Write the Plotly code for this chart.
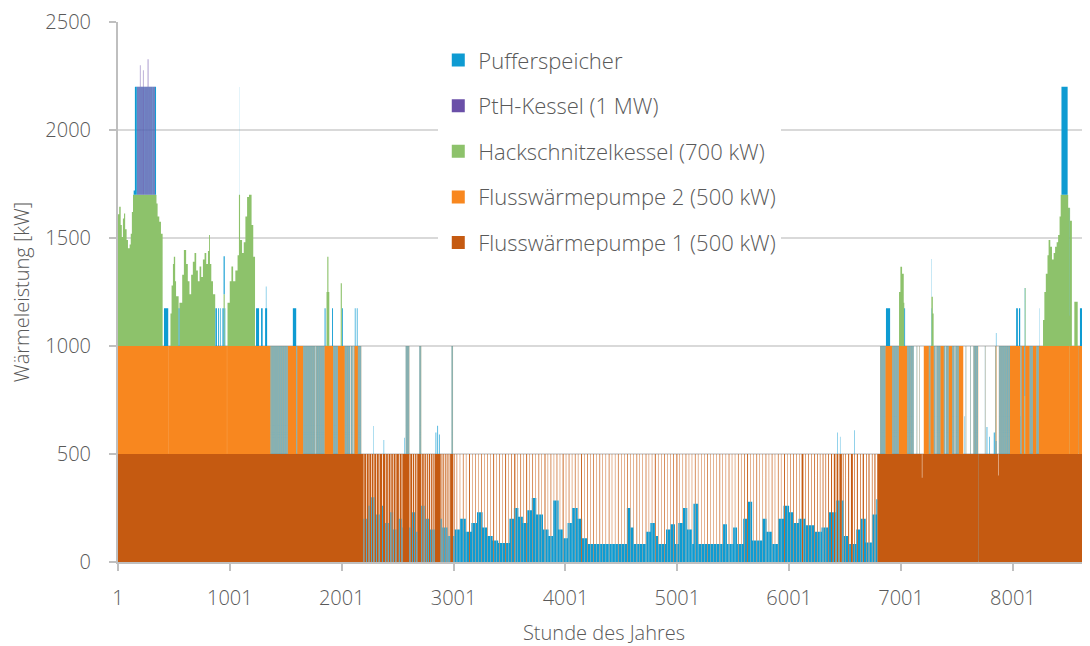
import numpy as np
import plotly.graph_objects as go

N_HOURS = 8760
hours = np.arange(1, N_HOURS + 1)

# ---------------- data (hours, kW) ----------------
# Flusswärmepumpe 1: 500 kW all year, mostly off in summer except listed runs
fwp1_full = 500
fwp1_summer_off = [2190, 6810]
fwp1_summer_on = [
    [2190, 2197], [2202, 2219], [2225, 2242], [2248, 2263], [2269, 2285], [2292, 2308], [2314, 2332],
    [2339, 2361], [2368, 2391], [2398, 2413], [2420, 2437], [2444, 2458], [2465, 2482], [2489, 2512],
    [2519, 2536], [2543, 2607], [2614, 2629], [2636, 2649], [2657, 2669], [2676, 2713], [2720, 2734],
    [2741, 2753], [2761, 2771], [2779, 2791], [2798, 2807], [2813, 2823], [2830, 2886], [2893, 2901],
    [2909, 2917], [2925, 2931], [2939, 2947], [2956, 2963], [2970, 2999], [3006, 3011],
    [3028, 3033], [3056, 3060], [3084, 3090], [3111, 3115], [3139, 3147], [3166, 3170], [3193, 3198],
    [3221, 3225], [3248, 3254], [3276, 3280], [3302, 3307], [3329, 3333], [3355, 3363], [3382, 3386],
    [3410, 3416], [3437, 3441], [3462, 3470], [3490, 3494], [3516, 3522], [3543, 3553], [3571, 3575],
    [3598, 3604], [3626, 3630], [3650, 3658], [3679, 3683], [3705, 3711], [3733, 3737], [3760, 3766],
    [3787, 3791], [3814, 3822], [3842, 3846], [3868, 3874], [3896, 3900], [3922, 3928], [3950, 3954],
    [3976, 3984], [4004, 4008], [4030, 4036], [4058, 4062], [4085, 4091], [4112, 4116], [4140, 4148],
    [4168, 4172], [4195, 4201], [4222, 4226], [4250, 4256], [4277, 4281], [4305, 4311], [4332, 4336],
    [4360, 4364], [4388, 4394], [4415, 4419], [4443, 4447], [4470, 4476], [4498, 4502], [4525, 4529],
    [4553, 4559], [4580, 4584], [4608, 4612], [4636, 4642], [4663, 4667], [4690, 4694], [4718, 4724],
    [4745, 4749], [4773, 4777], [4800, 4808], [4828, 4832], [4855, 4859], [4883, 4889], [4910, 4914],
    [4938, 4942], [4965, 4971], [4993, 5001], [5020, 5024], [5048, 5052], [5075, 5081], [5103, 5107],
    [5130, 5134], [5158, 5164], [5185, 5189], [5213, 5217], [5240, 5244], [5268, 5274], [5295, 5299],
    [5323, 5327], [5350, 5354], [5378, 5384], [5405, 5409], [5433, 5437], [5460, 5466], [5488, 5492],
    [5515, 5519], [5543, 5549], [5570, 5574], [5598, 5604], [5625, 5633], [5653, 5657], [5680, 5684],
    [5708, 5714], [5735, 5739], [5763, 5767], [5790, 5796], [5818, 5822], [5845, 5851], [5872, 5876],
    [5900, 5906], [5927, 5931], [5955, 5963], [5982, 5986],
    [6010, 6015], [6036, 6042], [6062, 6067], [6090, 6094], [6112, 6128], [6145, 6150], [6172, 6178],
    [6198, 6203], [6225, 6232], [6250, 6256], [6275, 6280], [6300, 6307], [6325, 6331], [6350, 6357],
    [6375, 6384], [6400, 6414], [6425, 6440], [6450, 6472], [6480, 6487], [6503, 6509], [6528, 6537],
    [6553, 6570], [6582, 6588], [6606, 6615], [6635, 6641], [6658, 6669], [6688, 6694], [6710, 6719],
    [6740, 6746], [6763, 6772], [6788, 6810],
]
fwp1_dips = [[7187, 7191, 390], [7690, 7691, 0], [7868, 7872, 400]]

# Flusswärmepumpe 2: ordered runs, mode on / alt (alternating with Pufferspeicher) / off
fwp2_runs = [
    [1, 1364, "on"], [455, 456, "off"], [975, 976, "off"],
    [1364, 1519, "alt"], [1519, 1594, "on"], [1594, 1603, "alt"], [1603, 1655, "on"],
    [1655, 1848, "alt"], [1848, 1923, "on"], [1923, 1968, "alt"], [1968, 2027, "on"],
    [2027, 2176, "alt"], [2116, 2146, "on"],
    [1762, 1766, "off"], [2075, 2081, "off"], [2100, 2106, "off"],
    [2572, 2606, "alt"], [2694, 2712, "alt"], [2982, 2996, "alt"],
    [6813, 6861, "alt"], [6861, 6921, "on"], [6921, 6981, "alt"], [6981, 7055, "on"], [7055, 7115, "alt"],
    [7140, 7146, "alt"], [7165, 7170, "alt"],
    [7204, 7557, "alt"], [7204, 7249, "on"], [7264, 7294, "on"], [7354, 7384, "on"], [7428, 7458, "on"],
    [7518, 7557, "on"], [7310, 7316, "off"], [7395, 7400, "off"], [7480, 7486, "off"],
    [7578, 7584, "alt"], [7620, 7626, "alt"], [7647, 7692, "alt"], [7750, 7756, "alt"],
    [7841, 7975, "alt"], [7858, 7875, "off"],
    [7975, 8760, "on"], [8065, 8080, "alt"], [8100, 8112, "alt"], [8150, 8180, "alt"],
    [8210, 8234, "alt"], [8510, 8512, "alt"], [8585, 8587, "alt"],
]

# Hackschnitzelkessel: [start, end, kW]
hack_runs = [
    [1, 12, 610], [12, 25, 645], [25, 35, 560], [35, 45, 505], [45, 55, 590], [55, 65, 614],
    [65, 78, 540], [78, 90, 491], [90, 105, 453], [105, 115, 470], [115, 125, 520], [125, 135, 620],
    [135, 345, 700], [345, 355, 660], [355, 370, 600], [370, 385, 575], [385, 400, 520],
    [470, 480, 150], [480, 492, 280], [492, 500, 380], [500, 512, 413], [512, 520, 300], [520, 543, 230],
    [550, 575, 200], [575, 590, 330], [590, 610, 444], [610, 625, 380], [625, 640, 300], [640, 655, 240],
    [655, 670, 330], [670, 685, 390], [685, 700, 430], [700, 715, 350], [715, 730, 300], [730, 745, 368],
    [745, 760, 320], [760, 775, 400], [775, 790, 430], [790, 805, 380], [805, 815, 440], [815, 823, 514],
    [823, 835, 380], [835, 850, 300], [850, 870, 240], [945, 955, 240],
    [980, 1000, 200], [1000, 1015, 300], [1015, 1030, 368], [1030, 1050, 300], [1050, 1070, 350],
    [1070, 1082, 420], [1082, 1092, 700], [1092, 1110, 491], [1110, 1125, 430], [1125, 1140, 480],
    [1140, 1155, 600], [1155, 1172, 690], [1172, 1195, 700], [1195, 1210, 560], [1210, 1226, 413],
    [1865, 1872, 250], [1872, 1882, 413], [1882, 1890, 250], [1992, 2002, 290],
    [6983, 6995, 250], [6995, 7010, 367], [7010, 7025, 335], [7025, 7030, 200],
    [7272, 7285, 228], [7285, 7292, 150], [8105, 8115, 268],
    [8270, 8282, 120], [8282, 8295, 250], [8295, 8310, 335], [8310, 8320, 420], [8320, 8335, 491],
    [8335, 8350, 460], [8350, 8365, 400], [8365, 8378, 430], [8378, 8392, 460], [8392, 8405, 480],
    [8405, 8418, 514], [8418, 8428, 600], [8428, 8495, 700], [8495, 8512, 640], [8512, 8528, 580],
    [8550, 8580, 205], [8625, 8636, 529], [8685, 8696, 413], [8720, 8740, 450],
]

# PtH-Kessel: runs in the January peak (three of every four hours), plus spikes
pth_block = [[168, 332]]
pth_peaks = [[197, 201, 600], [224, 228, 577], [267, 272, 628]]

# Pufferspeicher
puffer_top = [  # puffer above the running units [start, end, kW]
    [141, 152, 20], [152, 341, 500], [412, 450, 175], [543, 550, 175],
    [872, 885, 175], [895, 902, 175], [912, 918, 175], [935, 960, 175], [1087, 1088, 500],
    [1235, 1262, 175], [1280, 1294, 175], [1316, 1323, 175], [1323, 1327, 276], [1327, 1334, 175],
    [1564, 1594, 175], [1848, 1856, 175], [1915, 1923, 175], [2005, 2012, 175],
    [2118, 2124, 175], [2136, 2142, 175],
    [2282, 2285, 130], [2376, 2380, 65], [2558, 2562, 75], [2840, 2846, 100], [2856, 2862, 131],
    [2870, 2876, 90], [6430, 6434, 100], [6455, 6458, 80], [6583, 6587, 110],
    [6866, 6903, 175], [7030, 7037, 175], [7270, 7274, 175], [7566, 7569, 175],
    [7766, 7772, 125], [7790, 7795, 80], [7830, 7838, 100], [7848, 7856, 60],
    [8030, 8045, 175], [8055, 8067, 175], [8236, 8238, 175], [8435, 8490, 500],
    [8600, 8620, 175], [8645, 8660, 175], [8700, 8711, 175],
]
puffer_summer = [  # puffer level while FWP1 is off in summer [start, end, kW]
    [2190, 2230, 200], [2230, 2260, 260], [2260, 2300, 300], [2300, 2340, 220], [2340, 2380, 260],
    [2380, 2420, 180], [2420, 2460, 230], [2460, 2500, 150], [2500, 2540, 200], [2540, 2620, 160],
    [2620, 2660, 230], [2660, 2700, 140], [2700, 2740, 260], [2740, 2780, 200], [2780, 2830, 150],
    [2830, 2900, 200], [2900, 2950, 160], [2950, 3010, 120],
    [3010, 3060, 150], [3060, 3110, 200], [3110, 3160, 140], [3160, 3210, 180], [3210, 3260, 230],
    [3260, 3300, 160], [3300, 3350, 120], [3350, 3400, 100], [3400, 3500, 88], [3500, 3540, 200],
    [3540, 3580, 250], [3580, 3620, 210], [3620, 3660, 180], [3660, 3700, 240], [3700, 3740, 296],
    [3740, 3800, 220], [3800, 3850, 150], [3850, 3890, 120], [3890, 3940, 285], [3940, 3980, 150],
    [3980, 4020, 110], [4020, 4060, 180], [4060, 4110, 250], [4110, 4150, 200], [4150, 4200, 110],
    [4200, 4550, 83], [4550, 4580, 250], [4580, 4610, 160], [4610, 4720, 83], [4720, 4760, 140],
    [4760, 4800, 180], [4800, 4830, 120], [4830, 4900, 83], [4900, 4940, 150], [4940, 4980, 175],
    [4980, 5010, 83], [5010, 5050, 180], [5050, 5090, 250], [5090, 5130, 150], [5130, 5145, 83],
    [5145, 5190, 270], [5190, 5410, 83], [5410, 5445, 175], [5445, 5500, 83], [5500, 5535, 160],
    [5535, 5590, 83], [5590, 5630, 200], [5630, 5670, 279], [5670, 5760, 100],
    [5760, 5800, 200], [5800, 5850, 140], [5850, 5905, 83], [5905, 5950, 200], [5950, 6000, 260],
    [6000, 6040, 230], [6040, 6085, 180], [6085, 6150, 200], [6150, 6230, 170], [6230, 6290, 140],
    [6290, 6355, 160], [6355, 6420, 230], [6420, 6490, 285], [6490, 6535, 120], [6535, 6600, 83],
    [6600, 6640, 150], [6640, 6685, 200], [6685, 6740, 90], [6740, 6780, 220], [6780, 6810, 290],
]

names = ["Flusswärmepumpe 1 (500 kW)", "Flusswärmepumpe 2 (500 kW)",
         "Hackschnitzelkessel (700 kW)", "PtH-Kessel (1 MW)", "Pufferspeicher"]
colors = ["#C55A11", "#F8871F", "#8DC26B", "#6A4FA8", "#0E9BD2"]
x_ticks = [1, 1001, 2001, 3001, 4001, 5001, 6001, 7001, 8001]
y_ticks = [0, 500, 1000, 1500, 2000, 2500]

# ---------------- build hourly series ----------------
def sl(s, e):
    return slice(s - 1, e - 1)

fwp1 = np.full(N_HOURS, float(fwp1_full))
fwp1[sl(*fwp1_summer_off)] = 0
for s, e in fwp1_summer_on:
    fwp1[sl(s, e)] = fwp1_full
for s, e, v in fwp1_dips:
    fwp1[sl(s, e)] = v

fwp2 = np.zeros(N_HOURS)
puffer = np.zeros(N_HOURS)
for s, e, mode in fwp2_runs:
    idx = np.arange(s - 1, e - 1)
    if mode == "on":
        fwp2[idx] = 500
        puffer[idx] = 0
    elif mode == "off":
        fwp2[idx] = 0
        puffer[idx] = 0
    else:
        odd = idx % 2 == 1
        fwp2[idx[~odd]] = 500
        puffer[idx[~odd]] = 0
        fwp2[idx[odd]] = 0
        puffer[idx[odd]] = 500

hack = np.zeros(N_HOURS)
for s, e, v in hack_runs:
    hack[sl(s, e)] = v

for s, e, v in puffer_summer:
    seg = np.arange(s - 1, e - 1)
    free = seg[(fwp1[seg] == 0) & (fwp2[seg] == 0)]
    puffer[free] = v
for s, e, v in puffer_top:
    puffer[sl(s, e)] = v

pth = np.zeros(N_HOURS)
for s, e in pth_block:
    idx = np.arange(s - 1, e - 1)
    on = idx[idx % 4 != 0]
    pth[on] = 500
    puffer[on] = 0
for s, e, v in pth_peaks:
    pth[sl(s, e)] = v
    puffer[sl(s, e)] = 0

values = [fwp1, fwp2, hack, pth, puffer]

# ---------------- figure ----------------
FONT = "Segoe UI Light, Open Sans, Noto Sans, sans-serif"
TXT = "#595959"

fig = go.Figure()
for name, y, c in zip(names, values, colors):
    fig.add_trace(go.Scatter(
        x=hours, y=y, mode="none", stackgroup="one", fillcolor=c,
        line=dict(shape="hv", width=0, simplify=False),
        name=name, showlegend=False, hoverinfo="skip"))

for name, c in reversed(list(zip(names, colors))):
    fig.add_trace(go.Scatter(
        x=[None], y=[None], mode="markers", name=name, legendgroup=name,
        marker=dict(symbol="square", size=13, color=c), hoverinfo="skip"))

# the page body has an 8 px default margin; sizes compensate for it
fig.update_layout(
    width=1082, height=638,
    margin=dict(l=110, r=0, t=14, b=84),
    paper_bgcolor="white", plot_bgcolor="white",
    font=dict(family=FONT, color=TXT, size=20, weight=300),
    showlegend=True,
    legend=dict(
        x=0.3295, y=0.968, xanchor="left", yanchor="top",
        bgcolor="white", borderwidth=0,
        font=dict(family=FONT, size=22, color=TXT, weight=300),
        traceorder="grouped", tracegroupgap=14, itemwidth=30),
    xaxis=dict(
        range=[1, 8690], tickmode="array", tickvals=x_ticks,
        ticktext=[str(t) for t in x_ticks],
        showgrid=False, zeroline=False, showline=True, linecolor="#BFBFBF", linewidth=2,
        ticks="outside", ticklen=7, tickwidth=2, tickcolor="#BFBFBF",
        tickfont=dict(family=FONT, size=20, color=TXT, weight=300), ticklabelstandoff=10,
        title=dict(text="Stunde des Jahres", font=dict(family=FONT, size=20, color=TXT, weight=300),
                   standoff=16)),
    yaxis=dict(
        range=[0, 2500], tickmode="array", tickvals=y_ticks,
        showgrid=True, gridcolor="#D9D9D9", gridwidth=2, zeroline=False,
        showline=True, linecolor="#BFBFBF", linewidth=2,
        ticks="outside", ticklen=7, tickwidth=2, tickcolor="#BFBFBF",
        tickfont=dict(family=FONT, size=20, color=TXT, weight=300), ticklabelstandoff=14,
        title=dict(text="Wärmeleistung [kW]", font=dict(family=FONT, size=20, color=TXT, weight=300),
                   standoff=12)),
)

fig.write_html("out.html")
